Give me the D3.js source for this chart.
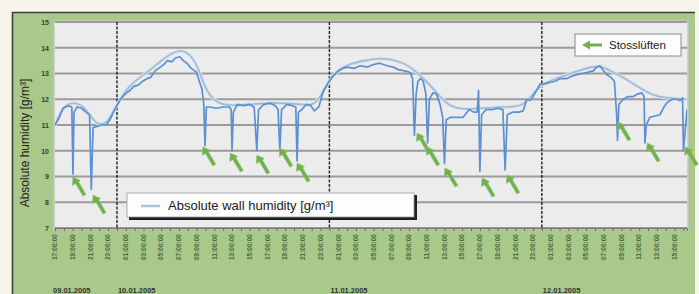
<!DOCTYPE html>
<html>
<head>
<meta charset="utf-8">
<script src="https://cdn.jsdelivr.net/npm/d3@7"></script>
<style>
  body { margin: 0; background: #f6f4ea; }
  svg { display: block; font-family: "Liberation Sans", Arial, sans-serif; }
</style>
</head>
<body>
<div id="vis"></div>
<script>
// hours counted from 09.01.2005 00:00
const MEASURED = [
  [17.0, 11.0], [17.5, 11.3], [17.9, 11.65], [18.5, 11.75], [18.9, 11.7], [19.03, 9.1], [19.15, 11.5],
  [19.5, 11.7], [20.0, 11.65], [20.5, 11.5], [20.9, 11.4], [21.1, 8.5], [21.3, 10.9], [21.8, 10.95],
  [22.3, 11.0], [22.8, 11.0], [23.2, 11.2], [23.6, 11.5], [24.0, 11.75], [24.4, 12.0], [24.9, 12.2],
  [25.5, 12.35], [25.9, 12.5], [26.4, 12.55], [26.9, 12.7], [27.4, 12.8], [27.8, 12.85], [28.3, 13.1],
  [28.9, 13.25], [29.3, 13.35], [29.7, 13.5], [30.2, 13.45], [30.6, 13.6], [31.1, 13.65], [31.5, 13.5],
  [31.9, 13.4], [32.4, 13.2], [33.0, 13.05], [33.3, 12.7], [33.6, 12.4], [33.8, 11.85], [33.95, 10.2],
  [34.1, 11.7], [34.5, 11.7], [35.2, 11.65], [36.0, 11.7], [36.7, 11.7], [36.9, 11.6], [37.0, 10.0],
  [37.15, 11.5], [37.6, 11.8], [38.3, 11.75], [39.0, 11.8], [39.5, 11.7], [39.8, 10.0], [40.0, 11.6],
  [40.6, 11.8], [41.3, 11.85], [41.9, 11.75], [42.2, 11.6], [42.4, 10.0], [42.6, 11.6], [43.2, 11.8],
  [43.8, 11.75], [44.2, 11.7], [44.35, 9.6], [44.5, 11.5], [44.9, 11.6], [45.4, 11.8], [45.9, 11.75],
  [46.3, 11.55], [46.8, 11.7], [47.3, 12.3], [47.8, 12.6], [48.4, 12.9], [49.0, 13.1], [49.5, 13.2],
  [50.0, 13.25], [50.8, 13.2], [51.5, 13.3], [52.3, 13.25], [53.0, 13.35], [53.7, 13.4], [54.5, 13.3],
  [55.2, 13.25], [55.8, 13.15], [56.5, 13.1], [57.1, 13.05], [57.4, 12.8], [57.6, 10.6], [57.8, 12.2],
  [58.0, 12.7], [58.3, 12.8], [58.6, 12.7], [58.9, 12.2], [59.1, 10.3], [59.3, 12.0], [59.7, 12.25],
  [60.1, 12.2], [60.5, 11.8], [60.8, 11.3], [61.0, 9.5], [61.2, 11.2], [61.7, 11.3], [62.5, 11.3],
  [63.1, 11.3], [63.8, 11.6], [64.3, 11.5], [64.7, 11.5], [64.85, 12.35], [65.0, 9.2], [65.2, 11.4],
  [65.7, 11.6], [66.4, 11.6], [67.0, 11.65], [67.6, 11.6], [67.85, 9.25], [68.1, 11.4], [68.7, 11.5],
  [69.4, 11.5], [69.9, 11.55], [70.3, 12.0], [70.7, 11.95], [71.0, 12.1], [71.5, 12.4], [71.8, 12.6],
  [72.3, 12.6], [72.9, 12.65], [73.5, 12.7], [74.05, 12.8], [74.8, 12.8], [75.4, 12.9], [75.95, 12.95],
  [76.6, 13.0], [77.2, 13.05], [77.8, 13.1], [78.2, 13.25], [78.55, 13.3], [79.0, 13.1], [79.35, 12.95],
  [79.8, 12.85], [80.2, 12.7], [80.45, 11.4], [80.55, 10.4], [80.7, 11.8], [81.2, 12.0], [81.7, 12.1],
  [82.3, 12.1], [82.8, 12.2], [83.3, 12.25], [83.55, 12.1], [83.65, 10.3], [83.8, 11.0], [84.2, 11.3],
  [84.8, 11.35], [85.35, 11.4], [85.8, 11.7], [86.1, 11.85], [86.5, 11.95], [86.8, 12.0], [87.3, 12.0],
  [87.6, 11.95], [87.9, 12.05], [88.0, 10.0], [88.2, 10.8], [88.4, 11.6]
];

const WALL = [
  [17.0, 11.0], [17.5, 11.4], [18.0, 11.7], [18.7, 11.85], [19.5, 11.85], [20.3, 11.7], [21.0, 11.35],
  [21.7, 11.05], [22.5, 11.0], [23.2, 11.25], [24.0, 11.8], [25.0, 12.35], [26.0, 12.7], [27.0, 12.95],
  [28.0, 13.2], [29.0, 13.5], [30.0, 13.75], [31.0, 13.9], [31.8, 13.85], [32.6, 13.6], [33.3, 13.1],
  [34.0, 12.4], [34.8, 12.0], [35.8, 11.8], [37.0, 11.75], [39.0, 11.8], [41.0, 11.85], [43.0, 11.85],
  [45.0, 11.8], [46.2, 11.75], [47.0, 12.1], [48.0, 12.75], [49.0, 13.15], [50.5, 13.4], [52.0, 13.5],
  [53.5, 13.6], [55.0, 13.55], [56.5, 13.4], [57.5, 13.15], [58.5, 12.85], [59.5, 12.5], [60.5, 12.1],
  [61.5, 11.75], [63.0, 11.6], [65.0, 11.65], [67.0, 11.7], [69.0, 11.7], [70.0, 11.8], [71.0, 12.2],
  [72.0, 12.6], [74.0, 12.85], [76.0, 13.1], [78.0, 13.3], [79.0, 13.25], [80.0, 13.05], [81.5, 12.8],
  [83.0, 12.45], [84.5, 12.15], [86.0, 12.05], [88.4, 12.0]
];

// Stosslüften markers: arrow tip (hour, value)
const AIRING = [
  [19.03, 8.98], [21.3, 8.28], [33.7, 10.15], [36.8, 9.91], [39.8, 9.83], [42.4, 10.1], [44.35, 9.52],
  [57.9, 10.69], [59.0, 10.15], [61.05, 9.33], [65.25, 8.94], [68.05, 9.06], [80.6, 11.12],
  [83.9, 10.3], [88.2, 10.15]
];

const Y_TICKS = [7, 8, 9, 10, 11, 12, 13, 14, 15];
const DAYS = ["09.01.2005", "10.01.2005", "11.01.2005", "12.01.2005"];
const Y_TITLE = "Absolute humidity [g/m³]";
const WALL_LABEL = "Absolute wall humidity [g/m³]";
const AIRING_LABEL = "Stosslüften";

const FRAME_WIDTH = 699;
const FRAME_HEIGHT = 294;
const MARGINS = { left: 55, right: 12, top: 22, bottom: 66 };
const VIS_WIDTH = FRAME_WIDTH - MARGINS.left - MARGINS.right;
const VIS_HEIGHT = FRAME_HEIGHT - MARGINS.top - MARGINS.bottom;

const BASE = new Date(2005, 0, 9);
const toDate = (h) => new Date(BASE.getTime() + h * 3600e3);

const svg = d3.select("#vis").append("svg")
  .attr("width", FRAME_WIDTH)
  .attr("height", FRAME_HEIGHT);

// green panel
svg.append("rect")
  .attr("x", 12).attr("y", 12)
  .attr("width", 683).attr("height", 290)
  .attr("fill", "#a9c98b");
svg.append("path")
  .attr("d", "M12.5,300V12.5H695")
  .attr("fill", "none")
  .attr("stroke", "#3c3c3c")
  .attr("stroke-width", 1.6);

const X_SCALE = d3.scaleTime()
  .domain([toDate(17), toDate(88.4)])
  .range([0, VIS_WIDTH]);
const Y_SCALE = d3.scaleLinear().domain([7, 15]).range([VIS_HEIGHT, 0]);

const g = svg.append("g")
  .attr("transform", "translate(" + MARGINS.left + "," + MARGINS.top + ")");

g.append("rect")
  .attr("x", -1).attr("y", -1)
  .attr("width", VIS_WIDTH + 2).attr("height", VIS_HEIGHT + 2)
  .attr("fill", "#ececec")
  .attr("stroke", "#c4c4c4")
  .attr("stroke-width", 1.5);

// horizontal gridlines
g.selectAll(".grid")
  .data(Y_TICKS)
  .enter()
  .append("line")
  .attr("x1", 0).attr("x2", VIS_WIDTH)
  .attr("y1", (d) => Y_SCALE(d)).attr("y2", (d) => Y_SCALE(d))
  .attr("stroke", "#9c9a9a")
  .attr("stroke-width", 2);

// day separators
const dayStarts = d3.timeDays(toDate(17), toDate(88.4));
g.selectAll(".day")
  .data(dayStarts)
  .enter()
  .append("line")
  .attr("x1", (d) => X_SCALE(d)).attr("x2", (d) => X_SCALE(d))
  .attr("y1", 0).attr("y2", VIS_HEIGHT)
  .attr("stroke", "#2a2a2a")
  .attr("stroke-width", 1.5)
  .attr("stroke-dasharray", "3,1.5");

// y axis labels
g.append("g")
  .call(d3.axisLeft(Y_SCALE).tickValues(Y_TICKS).tickSize(0).tickPadding(6))
  .call((a) => a.select(".domain").remove())
  .selectAll("text")
  .attr("font-size", "7px")
  .attr("font-weight", "bold")
  .attr("fill", "#3a3a3a");

// x axis: hourly ticks + rotated time labels every 2 hours
const hourTicks = d3.timeHours(toDate(17), toDate(88.4));
g.append("g")
  .attr("transform", "translate(0," + VIS_HEIGHT + ")")
  .call(d3.axisBottom(X_SCALE).tickValues(hourTicks).tickSize(3).tickFormat(""))
  .call((a) => a.select(".domain").attr("stroke", "#777"))
  .selectAll("line").attr("stroke", "#666");

const labelTicks = d3.timeHours(toDate(17), toDate(88.4), 2);
g.selectAll(".xlab")
  .data(labelTicks)
  .enter()
  .append("text")
  .attr("transform", (d) => "translate(" + X_SCALE(d) + "," + (VIS_HEIGHT + 6) + ") rotate(-90)")
  .attr("text-anchor", "end")
  .attr("dy", "0.35em")
  .attr("font-size", "6.5px")
  .attr("font-weight", "bold")
  .attr("fill", "#4a6a40")
  .text((d) => d3.timeFormat("%H:%M:%S")(d));

// date labels at bottom
const dayLabelPos = [toDate(17)].concat(dayStarts);
g.selectAll(".daylab")
  .data(DAYS)
  .enter()
  .append("text")
  .attr("x", (d, i) => X_SCALE(dayLabelPos[i]) + (i === 0 ? -2 : 1))
  .attr("y", VIS_HEIGHT + 64.5)
  .attr("font-size", "7.5px")
  .attr("font-weight", "bold")
  .attr("fill", "#333")
  .text((d) => d);

// y title
svg.append("text")
  .attr("transform", "translate(29,143) rotate(-90)")
  .attr("text-anchor", "middle")
  .attr("font-size", "12px")
  .attr("fill", "#222")
  .text(Y_TITLE);

const lineGen = d3.line()
  .x((d) => X_SCALE(toDate(d[0])))
  .y((d) => Y_SCALE(d[1]));

g.append("defs").append("clipPath").attr("id", "clip")
  .append("rect").attr("width", VIS_WIDTH).attr("height", VIS_HEIGHT);

// wall humidity (smooth, pale)
g.append("path")
  .datum(WALL)
  .attr("clip-path", "url(#clip)")
  .attr("fill", "none")
  .attr("stroke", "#d8e4ee")
  .attr("stroke-width", 3.6)
  .attr("d", lineGen.curve(d3.curveBasis));
g.append("path")
  .datum(WALL)
  .attr("clip-path", "url(#clip)")
  .attr("fill", "none")
  .attr("stroke", "#9fbad4")
  .attr("stroke-width", 1.6)
  .attr("d", lineGen.curve(d3.curveBasis));

// measured humidity
g.append("path")
  .datum(MEASURED)
  .attr("clip-path", "url(#clip)")
  .attr("fill", "none")
  .attr("stroke", "#5c90d2")
  .attr("stroke-width", 1.7)
  .attr("stroke-linejoin", "round")
  .attr("d", lineGen.curve(d3.curveLinear));

// green arrows
const ARROW = "M0,0 L-0.6,8.4 L2.6,6.6 L10,19 L13,17.4 L5.6,4.8 L7.4,3.4 Z";
g.selectAll(".arrow")
  .data(AIRING)
  .enter()
  .append("path")
  .attr("transform", (d) => "translate(" + X_SCALE(toDate(d[0])) + "," + Y_SCALE(d[1]) + ")")
  .attr("d", ARROW)
  .attr("fill", "#72b04f")
  .attr("stroke", "#8cc46c")
  .attr("stroke-width", 0.6);

// legend: wall humidity
svg.append("rect")
  .attr("x", 129).attr("y", 195).attr("width", 288).attr("height", 25)
  .attr("fill", "#1e1e1e");
svg.append("rect")
  .attr("x", 127).attr("y", 193).attr("width", 287).attr("height", 24)
  .attr("fill", "#fdfdfd")
  .attr("stroke", "#9a9a9a")
  .attr("stroke-width", 0.8);
svg.append("line")
  .attr("x1", 141).attr("x2", 160).attr("y1", 206).attr("y2", 206)
  .attr("stroke", "#a8c2de").attr("stroke-width", 2.5);
svg.append("text")
  .attr("x", 168).attr("y", 210)
  .attr("font-size", "13px")
  .attr("fill", "#1a1a1a")
  .text(WALL_LABEL);

// legend: Stosslüften
svg.append("rect")
  .attr("x", 575).attr("y", 34).attr("width", 106).attr("height", 22)
  .attr("fill", "#fdfdfd")
  .attr("stroke", "#8a8a8a")
  .attr("stroke-width", 1);
svg.append("path")
  .attr("d", "M582,45 L590,40.5 L590,43.5 L602,43.5 L602,46.5 L590,46.5 L590,49.5 Z")
  .attr("fill", "#72b04f");
svg.append("text")
  .attr("x", 609).attr("y", 49)
  .attr("font-size", "11.5px")
  .attr("fill", "#1a1a1a")
  .text(AIRING_LABEL);
</script>
</body>
</html>
